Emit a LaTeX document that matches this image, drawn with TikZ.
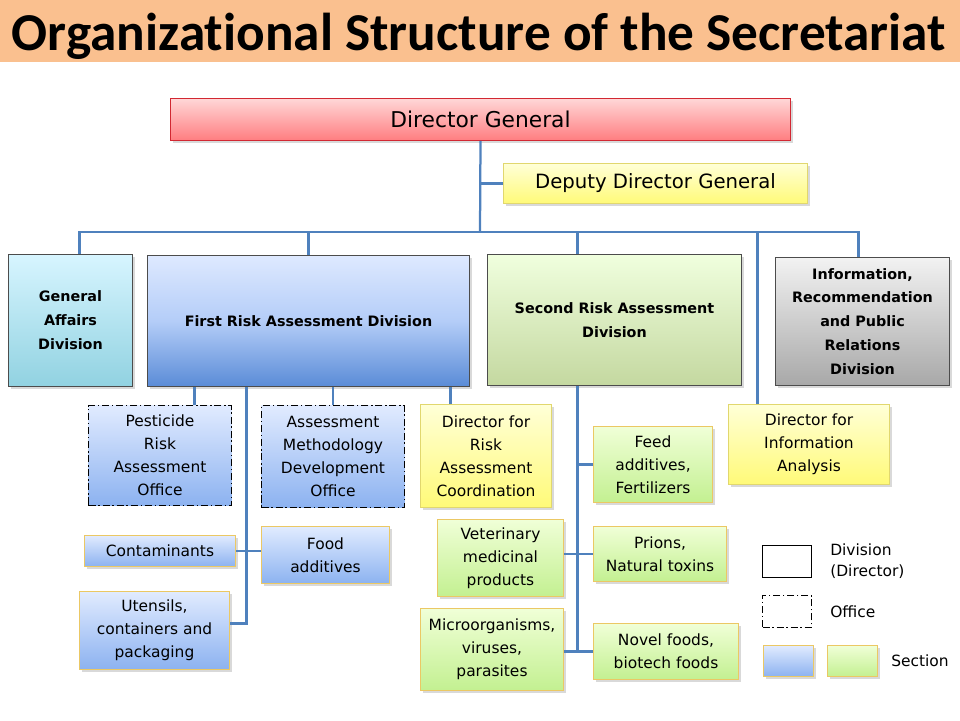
\documentclass[tikz,border=0pt]{standalone}
\usepackage{fontspec}
\setmainfont{DejaVu Sans}
\newfontfamily\titlefont[Ligatures=NoCommon]{Carlito}
\usepackage{xcolor}
\usetikzlibrary{positioning, calc, shadows}
\definecolor{titleband}{RGB}{250,192,143}
\definecolor{linkblue}{RGB}{79,129,189}
\definecolor{redtop}{RGB}{255,215,215}
\definecolor{redbot}{RGB}{255,125,128}
\definecolor{redline}{RGB}{210,40,50}
\definecolor{yeltop}{RGB}{255,255,215}
\definecolor{yelbot}{RGB}{255,250,120}
\definecolor{yelline}{RGB}{225,215,110}
\definecolor{cyantop}{RGB}{215,245,255}
\definecolor{cyanbot}{RGB}{145,210,225}
\definecolor{bluetop}{RGB}{222,233,255}
\definecolor{bluemid}{RGB}{180,205,248}
\definecolor{bluebot}{RGB}{90,140,215}
\definecolor{greentop}{RGB}{240,255,222}
\definecolor{greenbot}{RGB}{196,216,160}
\definecolor{graytop}{RGB}{242,242,242}
\definecolor{graybot}{RGB}{168,168,168}
\definecolor{sbluetop}{RGB}{225,235,255}
\definecolor{sbluebot}{RGB}{140,178,240}
\definecolor{sgreentop}{RGB}{240,255,215}
\definecolor{sgreenbot}{RGB}{195,240,145}
\definecolor{goldline}{RGB}{235,200,100}

\begin{document}
\begin{tikzpicture}[
    kotak/.style={anchor=north west, align=center, inner sep=2pt,
                  line width=0.7pt, font=\fontsize{11}{16.3}\selectfont},
    shade/.style={drop shadow={shadow xshift=1.5pt, shadow yshift=-1.5pt,
                  opacity=0.3}},
    divbox/.style={kotak, shade, draw=black!70,
                   font=\fontsize{10.2}{17}\selectfont\bfseries},
    ofcbox/.style={kotak, draw=black, top color=sbluetop, bottom color=sbluebot,
                   dash pattern=on 5pt off 2pt on 1pt off 2pt},
    dirbox/.style={kotak, shade, draw=yelline, top color=yeltop,
                   bottom color=yelbot},
    secblue/.style={kotak, shade, draw=goldline, top color=sbluetop,
                    bottom color=sbluebot},
    secgreen/.style={kotak, shade, draw=goldline, top color=sgreentop,
                     bottom color=sgreenbot},
    legtext/.style={anchor=west, align=left, inner sep=0pt,
                    font=\fontsize{11}{15}\selectfont},
    link/.style={linkblue, line width=1.6pt}
  ]
    \useasboundingbox (0,0) rectangle (24,-18);
    % title band
    \fill[titleband] (0,0) rectangle (24,-1.55);
    \node[anchor=base, inner sep=0pt,
          font=\titlefont\fontsize{37.9}{40}\selectfont\bfseries] (title)
      at (11.975,-1.27) {Organizational Structure of the Secretariat};

    % top management
    \node[kotak, shade, draw=redline, top color=redtop, bottom color=redbot,
          minimum width=15.5cm, minimum height=1.05cm,
          font=\fontsize{15.5}{18}\selectfont] (dg) at (4.25,-2.45)
      {Director General};
    \node[dirbox, minimum width=7.6cm, minimum height=1cm,
          font=\fontsize{14}{17}\selectfont] (ddg) at (12.575,-4.075)
      {Deputy Director General};

    % divisions
    \node[divbox, top color=cyantop, bottom color=cyanbot,
          minimum width=3.1cm, minimum height=3.3cm] (ga) at (0.2,-6.35)
      {General\\Affairs\\Division};
    \node[divbox, top color=bluetop, bottom color=bluebot, middle color=bluemid,
          minimum width=8.05cm, minimum height=3.275cm] (frd) at (3.675,-6.375)
      {First Risk Assessment Division};
    \node[divbox, top color=greentop, bottom color=greenbot,
          minimum width=6.35cm, minimum height=3.275cm] (srd) at (12.175,-6.35)
      {Second Risk Assessment\\Division};
    \node[divbox, top color=graytop, bottom color=graybot,
          minimum width=4.35cm, minimum height=3.2cm] (ird) at (19.375,-6.425)
      {Information,\\Recommendation\\and Public\\Relations\\Division};

    % offices and directors
    \node[ofcbox, minimum width=3.575cm, minimum height=2.5cm] (pro)
      at (2.2,-10.125) {Pesticide\\Risk\\Assessment\\Office};
    \node[ofcbox, minimum width=3.575cm, minimum height=2.55cm] (amo)
      at (6.525,-10.125) {Assessment\\Methodology\\Development\\Office};
    \node[dirbox, minimum width=3.275cm, minimum height=2.575cm] (drc)
      at (10.5,-10.1) {Director for\\Risk\\Assessment\\Coordination};
    \node[dirbox, minimum width=4.025cm, minimum height=2cm] (dia)
      at (18.2,-10.1) {Director for\\Information\\Analysis};

    % sections
    \node[secblue, minimum width=3.775cm, minimum height=0.775cm] (con)
      at (2.1,-13.375) {Contaminants};
    \node[secblue, minimum width=3.2cm, minimum height=1.425cm] (fad)
      at (6.525,-13.15) {Food\\additives};
    \node[secblue, minimum width=3.75cm, minimum height=1.95cm] (ute)
      at (1.975,-14.775) {Utensils,\\containers and\\packaging};
    \node[secgreen, minimum width=2.975cm, minimum height=1.9cm] (fee)
      at (14.825,-10.65) {Feed\\additives,\\Fertilizers};
    \node[secgreen, minimum width=3.15cm, minimum height=1.925cm] (vet)
      at (10.925,-12.975) {Veterinary\\medicinal\\products};
    \node[secgreen, minimum width=3.325cm, minimum height=1.375cm] (pri)
      at (14.825,-13.15) {Prions,\\Natural toxins};
    \node[secgreen, minimum width=3.575cm, minimum height=2.05cm] (mic)
      at (10.5,-15.2) {Microorganisms,\\viruses,\\parasites};
    \node[secgreen, minimum width=3.625cm, minimum height=1.4cm] (nov)
      at (14.825,-15.575) {Novel foods,\\biotech foods};

    % legend
    \node[kotak, draw=black, fill=white, minimum width=1.225cm,
          minimum height=0.8cm] (lgdiv) at (19.05,-13.625) {};
    \node[legtext, right=0.45cm of lgdiv] (lgdivt) {Division\\(Director)};
    \node[kotak, draw=black, dash pattern=on 5pt off 2pt on 1pt off 2pt,
          minimum width=1.225cm, minimum height=0.8cm] (lgofc)
      at (19.05,-14.875) {};
    \node[legtext, right=0.45cm of lgofc] (lgofct) {Office};
    \node[secblue, minimum width=1.25cm, minimum height=0.775cm] (lgsb)
      at (19.075,-16.125) {};
    \node[secgreen, minimum width=1.25cm, minimum height=0.775cm] (lgsg)
      at (20.675,-16.125) {};
    \node[legtext, right=0.325cm of lgsg] (lgsect) {Section};

    % connectors, top
    \coordinate (bus) at (12,-5.8);
    \coordinate (gaup) at ([xshift=0.225cm]ga.north);
    \coordinate (irup) at ([xshift=-0.1cm]ird.north);
    \coordinate (srup) at ([xshift=-0.925cm]srd.north);
    \coordinate (diup) at ([xshift=-1.2875cm]dia.north);
    \draw[link] (dg.south) -- (bus);
    \draw[link] (ddg.west) -- (ddg.west -| dg.south);
    \draw[link] (gaup) -- (gaup |- bus) -- (irup |- bus) -- (irup);
    \draw[link] (frd.north) -- (frd.north |- bus);
    \draw[link] (srup) -- (srup |- bus);
    \draw[link] (diup |- bus) -- (diup);

    % connectors, first division
    \coordinate (t1) at ([xshift=0.8625cm]pro.north);
    \coordinate (t2) at ([xshift=-0.8875cm]drc.north);
    \coordinate (sp1) at ([xshift=-1.55cm]frd.south);
    \coordinate (ut) at ([yshift=0.175cm]ute.east);
    \draw[link] (t1) -- (t1 |- frd.south);
    \draw[link] (amo.north) -- (amo.north |- frd.south);
    \draw[link] (t2) -- (t2 |- frd.south);
    \draw[link] (sp1) -- (sp1 |- ut) -- (ut);
    \draw[link] (con.east) -- (con.east -| fad.west);

    % connectors, second division
    \coordinate (sp2) at ([xshift=-0.925cm]srd.south);
    \draw[link] (sp2) -- (sp2 |- nov.west);
    \draw[link] (fee.west) -- (fee.west -| sp2);
    \draw[link] (vet.east |- pri.west) -- (pri.west);
    \draw[link] (mic.east |- nov.west) -- (nov.west);
  \end{tikzpicture}
\end{document}
